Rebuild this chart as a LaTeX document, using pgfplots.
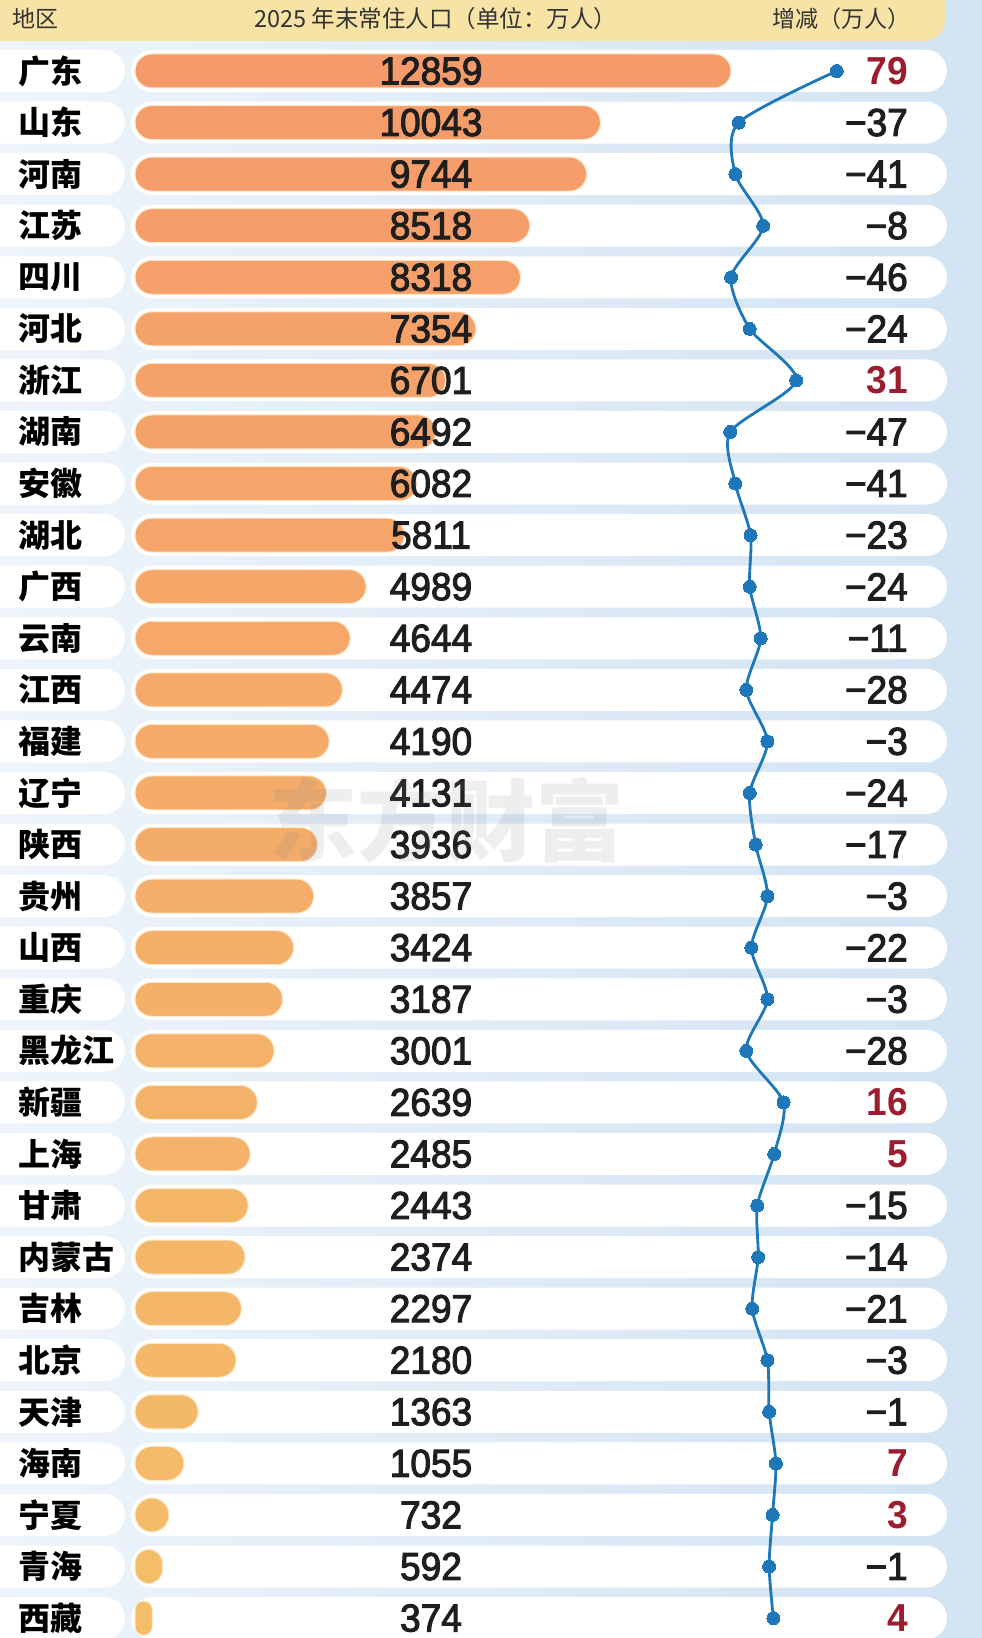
\documentclass[border=0pt]{standalone}
\usepackage{pgfplots}
\pgfplotsset{compat=1.18}
\usepackage{pgfplotstable}
\usepackage{fontspec}
\setmainfont{Liberation Sans}
\newfontfamily\cjk{Noto Sans CJK SC}
\newfontfamily\numfont{Liberation Sans}[FakeStretch=0.95, FakeBold=2.6]
\newfontfamily\numbold{Liberation Sans Bold}[FakeStretch=0.95]

\definecolor{bgLeft}{HTML}{EEF4FA}
\definecolor{bgRight}{HTML}{D2E3F3}
\definecolor{headerYellow}{HTML}{F8E3A6}
\definecolor{barTop}{HTML}{F59B6B}
\definecolor{barBot}{HTML}{F4BE68}
\definecolor{barEdge}{HTML}{FBE6C8}
\definecolor{lineBlue}{HTML}{1D77B9}
\definecolor{posRed}{HTML}{9C1D30}
\definecolor{headText}{HTML}{333333}
\definecolor{numText}{HTML}{1E1E1E}
\definecolor{markGrey}{HTML}{6F7E90}

% bar colours fade from salmon (top row) to amber (bottom row)
\foreach \i in {0,...,30}{%
  \pgfmathtruncatemacro\m{100-100*\i/30}%
  \xglobal\colorlet{bar\i}{barTop!\m!barBot}}

% year-end resident population (10k) and change vs previous year (10k)
\pgfplotstableread{
pop   d
12859 79
10043 -37
9744  -41
8518  -8
8318  -46
7354  -24
6701  31
6492  -47
6082  -41
5811  -23
4989  -24
4644  -11
4474  -28
4190  -3
4131  -24
3936  -17
3857  -3
3424  -22
3187  -3
3001  -28
2639  16
2485  5
2443  -15
2374  -14
2297  -21
2180  -3
1363  -1
1055  7
732   3
592   -1
374   4
}\provdata

\pgfkeys{/pgf/number format/intplain/.style={fixed, precision=0, 1000 sep={}, assume math mode=true}}

% population axis: 0.046349pt per 10k people
\def\popscale{0.046349}

\pgfplotsset{
  rowgrid/.style={
    at={(0pt,0pt)}, anchor=south west,
    width=982pt, height=1638pt, scale only axis,
    ymin=-1.37677, ymax=30.386, y dir=reverse,
    clip=false,
  },
}

\begin{document}
\begin{tikzpicture}
\useasboundingbox (0,0) rectangle (982pt,1638pt);
\clip (0,0) rectangle (982pt,1638pt);

% page background
\shade[left color=bgLeft, right color=bgRight] (0,0) rectangle (982pt,1638pt);

% header band
\fill[headerYellow, rounded corners=20pt] (-40pt,1597pt) rectangle (945pt,1690pt);
\node[anchor=west, inner sep=0pt, text=headText] at (12pt,1619pt)
  {\cjk\fontsize{23}{23}\selectfont 地区};
\node[inner sep=0pt, text=headText] at (436pt,1619pt)
  {\cjk\fontsize{23.5}{23.5}\selectfont 2025 年末常住人口（单位：万人）};
\node[anchor=east, inner sep=0pt, text=headText] at (911pt,1619pt)
  {\cjk\fontsize{23}{23}\selectfont 增减（万人）};

% white row pills
\foreach \i in {0,...,30}{%
  \pgfmathsetmacro\yc{1567-51.57*\i}
  \fill[white, rounded corners=21pt] (-30pt,\yc pt-21pt) rectangle (125pt,\yc pt+21pt);
  \fill[white, rounded corners=21pt] (131pt,\yc pt-21pt) rectangle (947pt,\yc pt+21pt);
}

% population bars, region names and values
\begin{axis}[rowgrid,
  xmin=-2912.7, xmax=18274.4,
  axis line style={draw=none}, tick style={draw=none},
  xtick=\empty, ytick={0,...,30},
  yticklabels={广东,山东,河南,江苏,四川,河北,浙江,湖南,安徽,湖北,广西,云南,江西,福建,辽宁,陕西,贵州,山西,重庆,黑龙江,新疆,上海,甘肃,内蒙古,吉林,北京,天津,海南,宁夏,青海,西藏},
  yticklabel style={anchor=west, xshift=18pt, inner sep=0pt, text=black,
    font=\cjk\bfseries\fontsize{32}{32}\selectfont},
]
\pgfplotsinvokeforeach{0,...,30}{
  % corner radius: half the bar height, or half the bar length if shorter
  \pgfplotstablegetelem{#1}{pop}\of\provdata
  \pgfmathsetmacro\rad{min(17,0.5*\pgfplotsretval*\popscale)}
  \edef\radopt{rounded corners=\rad pt}
  \expandafter\addplot\expandafter[\radopt, xbar, bar width=34pt, bar shift=0pt,
    fill=bar#1, draw=barEdge, line width=1pt]
    table[x=pop, y expr=\coordindex, restrict expr to domain={\coordindex}{#1:#1}] {\provdata};
}
\addplot[only marks, mark=none, point meta={\thisrow{pop}},
  nodes near coords={\pgfmathprintnumber[intplain]{\pgfplotspointmeta}},
  every node near coord/.append style={anchor=center, inner sep=0pt, text=numText,
    font=\numfont\fontsize{39}{39}\selectfont}]
  table[x expr=6386, y expr=\coordindex] {\provdata};
\end{axis}

% year-on-year change line and its labels
\begin{axis}[rowgrid, hide axis, xmin=-911.2, xmax=250.9]
\addplot[lineBlue, line width=2.8pt, smooth, tension=0.45,
  mark=*, mark size=6.5pt, mark options={fill=lineBlue, draw=lineBlue, line width=0pt}]
  table[x=d, y expr=\coordindex] {\provdata};
\addplot[only marks, mark=none, point meta={\thisrow{d}},
  restrict expr to domain={\thisrow{d}}{0:1000},
  nodes near coords={\pgfmathprintnumber[intplain]{\pgfplotspointmeta}},
  every node near coord/.append style={anchor=east, inner sep=0pt, text=posRed,
    font=\numbold\fontsize{39}{39}\selectfont}]
  table[x expr=163.3, y expr=\coordindex] {\provdata};
\addplot[only marks, mark=none, point meta={-\thisrow{d}},
  restrict expr to domain={\thisrow{d}}{-1000:-0.5},
  nodes near coords={−\pgfmathprintnumber[intplain]{\pgfplotspointmeta}},
  every node near coord/.append style={anchor=east, inner sep=0pt, text=numText,
    font=\numfont\fontsize{39}{39}\selectfont}]
  table[x expr=163.3, y expr=\coordindex] {\provdata};
\end{axis}

% faint publisher watermark
\node[opacity=0.13, text=markGrey] at (446pt,818pt)
  {\cjk\bfseries\fontsize{89}{89}\selectfont 东方财富};
\end{tikzpicture}
\end{document}
